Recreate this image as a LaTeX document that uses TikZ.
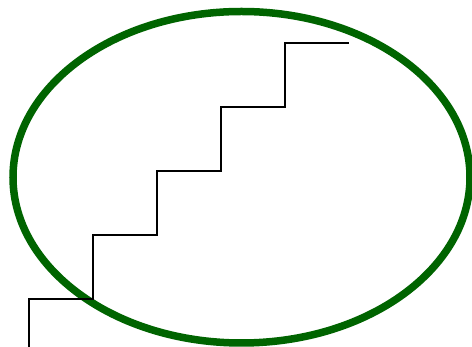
\documentclass[tikz,border=0pt]{standalone}
\usepackage{tikz}
\definecolor{ovalgreen}{RGB}{0,100,0}

\begin{document}
\begin{tikzpicture}[x=1pt,y=1pt]
\useasboundingbox (0,0) rectangle (472,347);
\draw[ovalgreen,line width=7.5pt] (241.5,169.75) ellipse [x radius=228.5,y radius=165.75];
\coordinate (s0) at (29,0);
\draw[line width=2pt] (s0) -- ++(0,48)
  \foreach \k in {1,...,4} { -- ++(64,0) -- ++(0,64) } -- ++(64,0);
\end{tikzpicture}
\end{document}
